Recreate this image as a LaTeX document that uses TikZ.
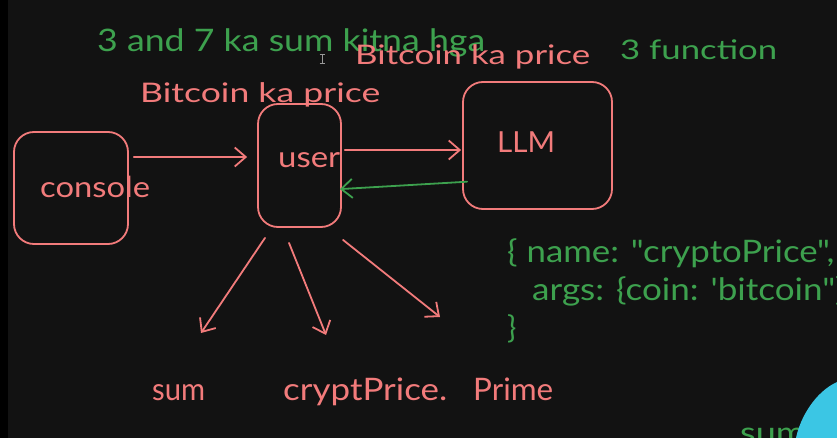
\documentclass[tikz,border=0pt]{standalone}
\usepackage{fontspec}
\setmainfont{Lato}
\newfontfamily\codefont{Lato}
\usetikzlibrary{arrows.meta}
\definecolor{bg}{HTML}{121212}
\definecolor{redc}{HTML}{F27B7B}
\definecolor{grn}{HTML}{3DA14E}
\definecolor{cyanc}{HTML}{3BC6E4}
\newcommand{\fitw}[2]{\resizebox{#1pt}{\height}{#2}}
\begin{document}
\begin{tikzpicture}[x=1pt,y=-1pt,
  box/.style={draw=redc, line width=1.8pt, rounded corners=20pt, inner sep=0pt},
  arr/.style={draw=redc, line width=1.8pt, line cap=round, -{Straight Barb[length=11pt,width=19pt,line width=1.8pt]}},
  garr/.style={arr, draw=grn},
  rtxt/.style={text=redc, inner sep=0pt, anchor=base west},
  gtxt/.style={text=grn, inner sep=0pt, anchor=base west},
  fs/.style={font=\fontsize{#1}{#1}\selectfont}]
\useasboundingbox (0,0) rectangle (837,438);
\clip (0,0) rectangle (837,438);
\fill[bg] (0,0) rectangle (837,438);
\fill[black] (0,0) rectangle (8,438);

% top texts
\node[gtxt, fs=31] (q1) at (97,52) {\fitw{388}{3 and 7 ka sum kitna hga}};
\node[rtxt, fs=27] (bp1) at (355,65) {\fitw{235}{Bitcoin ka price}};
\node[gtxt, fs=27] (fn) at (620,60) {\fitw{157}{3 function}};
\node[rtxt, fs=27] (bp2) at (140,103) {\fitw{240}{Bitcoin ka price}};

% cursor
\draw[gray!80, line width=1pt] (322,55) -- (322,64) (319.5,55) -- (324.5,55) (319.5,64) -- (324.5,64);

% boxes
\node[box, minimum width=114pt, minimum height=112pt] (console) at (71,188) {};
\node[box, minimum width=83pt, minimum height=123pt] (user) at (299.5,165.5) {};
\node[box, minimum width=149pt, minimum height=127pt] (llm) at (537.5,145.5) {};

\node[rtxt, fs=29] (consoleT) at (40,198) {\fitw{110}{console}};
\node[rtxt, fs=29] (userT) at (278,168) {\fitw{62}{user}};
\node[rtxt, fs=29] (llmT) at (497,153) {\fitw{58}{LLM}};

% connectors between boxes
\coordinate (y1) at (0,157);
\coordinate (y2) at (0,150);
\draw[arr, shorten <=5pt, shorten >=10pt] (console.east |- y1) -- (user.west |- y1);
\draw[arr, shorten <=3pt, shorten >=1pt] (user.east |- y2) -- (llm.west |- y2);
\coordinate (g1) at (0,182);
\coordinate (g2) at (0,189);
\draw[garr, shorten <=-5pt, shorten >=-2pt] (llm.west |- g1) -- (user.east |- g2);

% bottom labels
\node[rtxt, fs=31] (sumT) at (152,400) {\fitw{53}{sum}};
\node[rtxt, fs=31] (cpT) at (283,400) {\fitw{164}{cryptPrice.}};
\node[rtxt, fs=31] (prT) at (473,400) {\fitw{80}{Prime}};

\coordinate (e1) at (201,333);
\coordinate (e2) at (326,335);
\coordinate (e3) at (440,317);
\draw[arr] ([xshift=-34.5pt,yshift=-10pt]user.south) -- (e1);
\draw[arr] ([xshift=-10.5pt,yshift=-15pt]user.south) -- (e2);
\draw[arr] ([xshift=43.5pt,yshift=-12pt]user.south) -- (e3);

% JSON text
\node[gtxt, font=\codefont\fontsize{31}{31}\selectfont] (j1) at (507,262) {\fitw{327}{\{ name: "cryptoPrice",}};
\node[gtxt, font=\codefont\fontsize{31}{31}\selectfont] (j2) at (532,300) {\fitw{303}{args: \{coin: 'bitcoin"}\scalebox{1.15}[1]{\}}};
\node[gtxt, fs=31] (j3) at (507,338) {\}};

% bottom right
\node[gtxt, fs=30] (sumc) at (740,443) {\fitw{75}{sum(}};
\fill[cyanc] (837,382) .. controls (815,392) and (800,418) .. (796,438) -- (837,438) -- cycle;
\end{tikzpicture}
\end{document}
